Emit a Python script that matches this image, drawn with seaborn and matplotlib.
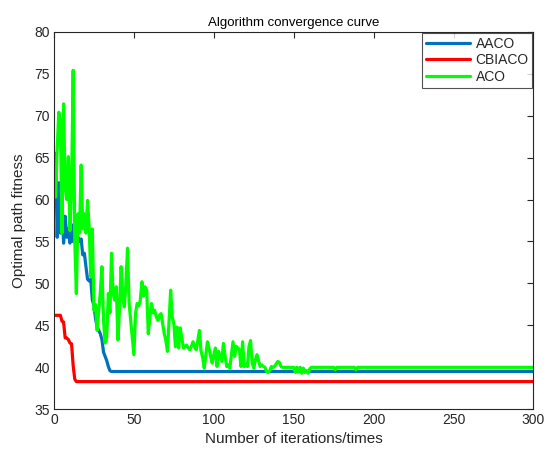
import numpy as np
import pandas as pd
import matplotlib
matplotlib.use("Agg")
import matplotlib.pyplot as plt
import seaborn as sns

# ---- data -------------------------------------------------------------
# AACO: per-iteration values for iterations 1..36, then flat to the end
aaco_head = [65.5, 55.5, 62.0, 56.0, 60.0, 54.8, 58.0, 55.5, 56.5, 54.8,
             57.0, 55.0, 56.0, 54.6, 55.5, 55.0, 55.3, 53.4, 53.6, 52.0,
             50.5, 50.3, 50.5, 48.0, 47.4, 45.8, 44.8, 44.4, 44.0, 43.3,
             41.8, 41.3, 40.8, 40.1, 39.6, 39.5]
aaco_tail_iter = [300]
aaco_tail_val = [39.5]

# CBIACO: per-iteration values for iterations 1..14, then flat
cbiaco_head = [46.2, 46.2, 46.2, 46.2, 45.5, 45.4, 43.5, 43.5, 43.3, 42.9,
               42.8, 40.2, 38.6, 38.3]
cbiaco_tail_iter = [300]
cbiaco_tail_val = [38.3]

# ACO: per-iteration values for iterations 1..143
aco_head = [60.3, 66.0, 70.4, 69.5, 56.0, 71.4, 61.5, 60.0, 65.1, 56.3,
            61.5, 75.4, 55.0, 48.8, 58.3, 56.0, 64.1, 56.5, 58.3, 56.0,
            59.9, 56.7, 50.8, 56.5, 46.8, 47.5, 44.4, 46.8, 49.0, 52.0,
            45.6, 42.9, 43.6, 48.8, 46.5, 53.6, 48.8, 48.0, 49.6, 43.25,
            47.0, 52.0, 48.4, 47.2, 50.0, 54.2, 47.6, 45.6, 43.5, 41.5,
            46.4, 47.6, 47.3, 48.0, 50.2, 48.5, 49.6, 49.2, 44.0, 46.0,
            47.6, 46.5, 46.8, 46.0, 45.6, 46.2, 46.4, 45.2, 44.0, 43.2,
            41.9, 45.5, 49.2, 46.0, 45.2, 42.45, 44.8, 42.3, 44.7, 43.5,
            42.3, 42.5, 42.65, 42.3, 42.1, 42.5, 43.05, 42.4, 42.1, 43.2,
            44.4, 41.9, 41.2, 39.9, 41.5, 43.05, 42.3, 41.3, 40.5, 41.5,
            42.3, 40.1, 41.9, 41.3, 40.7, 42.85, 41.5, 40.1, 40.3, 39.9,
            41.5, 43.05, 41.3, 42.5, 42.3, 42.1, 40.1, 43.05, 40.1, 40.3,
            40.1, 42.5, 43.2, 40.5, 39.9, 40.9, 41.5, 40.8, 40.1, 40.3,
            40.1, 40.0, 39.5, 39.4, 39.6, 40.1, 40.0, 40.1, 40.4, 40.7,
            40.6, 40.1, 40.0]
# ACO after iteration 143: only the points where the value changes
aco_tail_iter = [150, 151, 152, 153, 154, 155, 156, 157, 158, 159, 160, 161,
                 175, 176, 177, 188, 189, 190, 300]
aco_tail_val = [40.0, 39.4, 40.0, 39.5, 40.0, 39.3, 39.9, 39.4, 39.6, 39.3,
                39.8, 40.0, 40.0, 39.7, 40.0, 40.0, 39.7, 40.0, 40.0]

labels = ["AACO", "CBIACO", "ACO"]
colors = {"AACO": "#0072BD", "CBIACO": "#FF0000", "ACO": "#00FF00"}


def series(name, head, tail_iter, tail_val):
    it = np.concatenate([np.arange(1, len(head) + 1), tail_iter])
    val = np.concatenate([head, tail_val])
    return pd.DataFrame({"iteration": it, "fitness": val, "algorithm": name})


df = pd.concat([
    series("AACO", aaco_head, aaco_tail_iter, aaco_tail_val),
    series("CBIACO", cbiaco_head, cbiaco_tail_iter, cbiaco_tail_val),
    series("ACO", aco_head, aco_tail_iter, aco_tail_val),
], ignore_index=True)

# ---- style ------------------------------------------------------------
sns.set_style("white")
plt.rcParams["font.family"] = ["Liberation Sans", "DejaVu Sans"]
ink = "#262626"

fig = plt.figure(figsize=(5.47, 4.53), dpi=100)
ax = fig.add_axes([0.0987, 0.0965, 0.8766, 0.8335])

sns.lineplot(data=df, x="iteration", y="fitness", hue="algorithm",
             hue_order=labels, palette=colors, sort=False, estimator=None,
             linewidth=2.3, ax=ax)

ax.set_xlim(0, 300)
ax.set_ylim(35, 80)
ax.set_xticks(np.arange(0, 301, 50))
ax.set_yticks(np.arange(35, 81, 5))
ax.tick_params(direction="in", top=True, right=True, length=4, width=0.8,
               labelsize=10, colors=ink, labelcolor=ink, pad=3)
for s in ax.spines.values():
    s.set_color(ink)
    s.set_linewidth(0.8)

ax.set_title("Algorithm convergence curve", fontsize=9.5, color="black", pad=4)
ax.set_xlabel("Number of iterations/times", fontsize=11, color=ink, labelpad=3)
ax.set_ylabel("Optimal path fitness", fontsize=11, color=ink, labelpad=6)

leg = ax.legend(loc="upper right", fontsize=10, frameon=True, fancybox=False,
                borderaxespad=0.1, handlelength=3.2, handletextpad=0.4,
                labelspacing=0.2, borderpad=0.25)
leg.get_frame().set_edgecolor(ink)
leg.get_frame().set_linewidth(0.8)
for line in leg.get_lines():
    line.set_linewidth(2.3)

fig.savefig("out.png", dpi=100)
